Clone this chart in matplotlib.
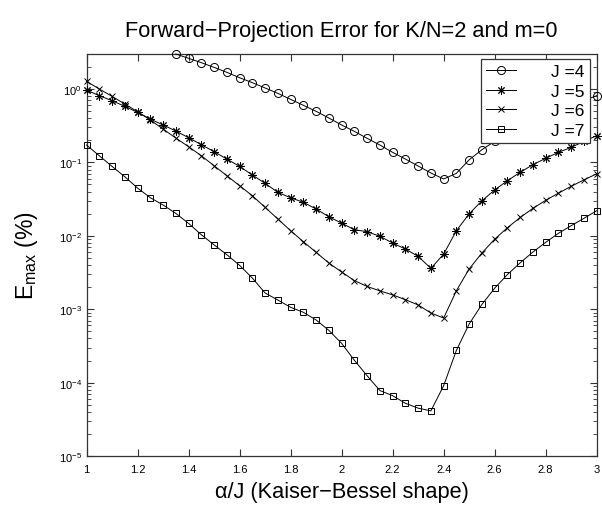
# -*- coding: utf-8 -*-
"""
Forward-projection error vs. Kaiser-Bessel shape parameter (K/N=2, m=0)
"""
import numpy as np
import matplotlib
matplotlib.use('Agg')
import matplotlib.pyplot as plt
from matplotlib.ticker import LogLocator, NullFormatter, FixedLocator

plt.rcParams['font.family'] = ['Liberation Sans', 'DejaVu Sans']
plt.rcParams['mathtext.fontset'] = 'custom'
plt.rcParams['mathtext.rm'] = 'Liberation Sans'
plt.rcParams['mathtext.it'] = 'Liberation Sans:italic'

#%% data: log10 of E_max (%), alpha/J step 0.05
alpha_J4 = np.round(np.arange(1.35, 3.001, 0.05), 2)
logE_J4 = [0.477, 0.418, 0.359, 0.295, 0.227, 0.154, 0.086, 0.014, -0.059,
           -0.141, -0.222, -0.304, -0.395, -0.490, -0.577, -0.672, -0.763,
           -0.863, -0.954, -1.049, -1.144, -1.226, -1.149, -0.965, -0.827,
           -0.713, -0.606, -0.510, -0.423, -0.350, -0.282, -0.225, -0.156,
           -0.091]

alpha_all = np.round(np.arange(1.0, 3.001, 0.05), 2)
logE_J5 = [-0.014, -0.091, -0.159, -0.236, -0.318, -0.409, -0.490, -0.572,
           -0.663, -0.758, -0.854, -0.954, -1.054, -1.172, -1.285, -1.408,
           -1.481, -1.544, -1.635, -1.740, -1.828, -1.917, -1.944, -2.007,
           -2.098, -2.180, -2.280, -2.443, -2.250, -1.930, -1.701, -1.523,
           -1.376, -1.249, -1.135, -1.031, -0.944, -0.863, -0.795, -0.713,
           -0.636]
logE_J6 = [0.105, 0.000, -0.100, -0.204, -0.309, -0.422, -0.545, -0.668,
           -0.786, -0.909, -1.045, -1.181, -1.317, -1.454, -1.612, -1.771,
           -1.930, -2.080, -2.225, -2.371, -2.493, -2.610, -2.690, -2.750,
           -2.805, -2.870, -2.942, -3.052, -3.120, -2.748, -2.452, -2.234,
           -2.046, -1.890, -1.750, -1.626, -1.517, -1.419, -1.326, -1.238,
           -1.156]
logE_J7 = [-0.763, -0.909, -1.054, -1.195, -1.349, -1.481, -1.580, -1.694,
           -1.830, -1.985, -2.123, -2.257, -2.402, -2.575, -2.779, -2.875,
           -2.974, -3.042, -3.147, -3.288, -3.465, -3.696, -3.906, -4.108,
           -4.178, -4.282, -4.348, -4.385, -4.042, -3.560, -3.202, -2.935,
           -2.714, -2.528, -2.368, -2.221, -2.089, -1.966, -1.862, -1.762,
           -1.658]

series = [
    ('J =4', alpha_J4, logE_J4, 'o', 5.8),
    ('J =5', alpha_all, logE_J5, (8, 2, 0), 6.0),
    ('J =6', alpha_all, logE_J6, 'x', 4.0),
    ('J =7', alpha_all, logE_J7, 's', 4.2),
]

#%% plot
fig = plt.figure(figsize=(6.02, 5.10), dpi=100)
ax = fig.add_axes([0.1437, 0.1039, 0.8475, 0.7883])

for lbl, xs, ly, mk, ms in series:
    ax.plot(xs, 10**np.array(ly), color='k', lw=0.7, marker=mk, ms=ms,
            mfc='none', mec='k', mew=0.7, label=lbl, clip_on=False, zorder=3)

ax.set_yscale('log')
ax.set_xlim(1, 3)
ax.set_ylim(1e-5, 3.0)
ax.xaxis.set_major_locator(FixedLocator(np.arange(1.0, 3.01, 0.2)))
ax.set_xticklabels(['1', '1.2', '1.4', '1.6', '1.8', '2', '2.2', '2.4',
                    '2.6', '2.8', '3'])
ax.yaxis.set_major_locator(LogLocator(base=10, numticks=10))
ax.yaxis.set_minor_locator(LogLocator(base=10, subs=np.arange(2, 10), numticks=20))
ax.yaxis.set_minor_formatter(NullFormatter())

ax.tick_params(which='both', direction='in', top=True, right=True,
               labelsize=8, color='#333333')
ax.tick_params(which='major', length=5, width=0.8)
ax.tick_params(which='minor', length=3, width=0.6)
ax.tick_params(axis='x', pad=6)
for sp in ax.spines.values():
    sp.set_color('#333333')
    sp.set_linewidth(0.9)

ax.set_title('Forward\u2212Projection Error for K/N=2 and m=0',
             fontsize=15.7, pad=13)
ax.set_xlabel('\u03b1/J (Kaiser\u2212Bessel shape)', fontsize=15.7, labelpad=5)
ax.set_ylabel(r'E$_{\mathregular{max}}$ (%)', fontsize=16.5, labelpad=13)

leg = ax.legend(loc='upper right', bbox_to_anchor=(0.987, 0.988),
                borderaxespad=0, fontsize=12.5, frameon=True, fancybox=False,
                edgecolor='#333333', framealpha=1, handlelength=1.7,
                handletextpad=2.05, labelspacing=0.25, borderpad=0.3)
leg.get_frame().set_linewidth(0.9)
leg.set_zorder(5)

plt.savefig('out.png', dpi=100)
